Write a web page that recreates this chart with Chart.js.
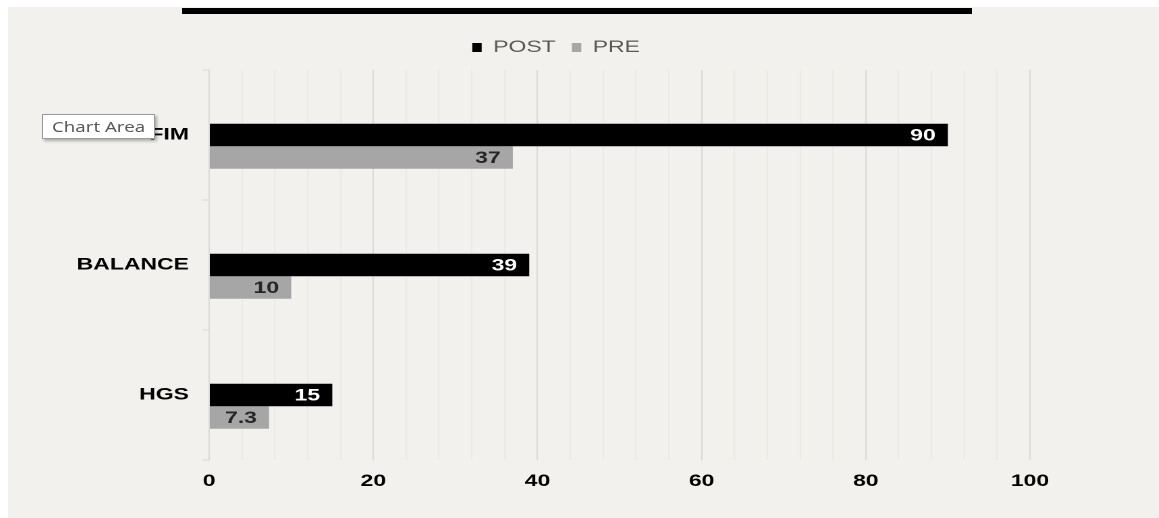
<!DOCTYPE html>
<html>
<head>
<meta charset="utf-8">
<script src="https://cdn.jsdelivr.net/npm/chart.js@4.4.0/dist/chart.umd.min.js"></script>
<style>
body{margin:0;background:#fff;width:1159px;height:518px;position:relative;overflow:hidden;font-family:"Liberation Sans",Arial,sans-serif;}
#panel{position:absolute;left:8px;top:7px;right:0;bottom:0;background:#f3f1ed;}
#topline{position:absolute;left:182px;top:8px;width:790px;height:6px;background:#000;}
#wrap{position:absolute;left:8px;top:7px;width:853px;height:511px;transform:scaleX(1.35);transform-origin:0 0;}
#tip{position:absolute;left:42px;top:114px;width:111px;height:23px;background:#fff;border:1px solid #9a9a9a;box-shadow:2px 2px 3px rgba(0,0,0,.3);z-index:5;}
#tip span{display:inline-block;font-family:"Noto Sans",sans-serif;font-size:14px;color:#595959;line-height:23px;margin-left:9px;transform:scaleX(1.33);transform-origin:0 50%;}
</style>
</head>
<body>
<div id="panel"></div>
<div id="topline"></div>
<div id="wrap"><canvas id="barChart"></canvas></div>
<div id="tip"><span>Chart Area</span></div>
<script>
const categories = ["FIM","BALANCE","HGS"];
const postValues = [90,39,15];
const preValues = [37,10,7.3];
const xTicks = [0,20,40,60,80,100];

Chart.defaults.font.family = "'Liberation Sans', Arial, sans-serif";

// legend gets a fixed height and is centred on the plot, not the canvas
const legendSpace = {
id:"legendSpace",
beforeInit(chart){
const fit = chart.legend.fit;
chart.legend.fit = function(){
fit.bind(chart.legend)();
this.height = 43;
};
},
afterLayout(chart){
chart.legend.left = 55;
chart.legend.right = 757;
}
};

const valueLabels = {
id:"valueLabels",
afterDatasetsDraw(chart){
const ctx = chart.ctx;
ctx.save();
ctx.font = "bold 17px 'Liberation Sans', Arial, sans-serif";
ctx.textAlign = "right";
ctx.textBaseline = "middle";
[1,2].forEach(di=>{
const meta = chart.getDatasetMeta(di);
const ds = chart.data.datasets[di];
meta.data.forEach((bar,i)=>{
ctx.fillStyle = di===1 ? "#ffffff" : "#262626";
ctx.fillText(String(ds.data[i]), bar.x - 9, bar.y + 1);
});
});
ctx.restore();
}
};

new Chart(document.getElementById("barChart"),{
type:"bar",
data:{
labels:categories,
datasets:[
{label:"",data:[null,null,null],backgroundColor:"rgba(0,0,0,0)"},
{label:"POST",data:postValues,backgroundColor:"#000000"},
{label:"PRE",data:preValues,backgroundColor:"#a6a6a6"}
]
},
options:{
indexAxis:"y",
responsive:true,
maintainAspectRatio:false,
devicePixelRatio:2,
animation:false,
categoryPercentage:0.519,
barPercentage:1,
layout:{padding:{left:0,right:96,top:20,bottom:18}},
plugins:{
tooltip:{enabled:false},
legend:{
position:"top",
labels:{
boxWidth:7,
boxHeight:9,
padding:12,
color:"#595959",
font:{size:17},
filter:item=>item.text!==""
}
}
},
scales:{
x:{
min:0,
max:100,
afterFit(scale){scale.height = 40;},
ticks:{
stepSize:4,
autoSkip:false,
maxRotation:0,
padding:11,
color:"#000",
font:{size:17,weight:"bold"},
callback:v=>xTicks.includes(v) ? v : ""
},
grid:{
drawTicks:false,
color:c=>xTicks.includes(c.tick.value) ? "#d9d9d9" : "#ece9e5"
},
border:{display:false}
},
y:{
afterFit(scale){scale.width = 149;},
ticks:{
padding:10,
color:"#000",
font:{size:17,weight:"bold"}
},
grid:{
drawOnChartArea:false,
tickLength:5,
color:"#d9d9d9"
},
border:{color:"#d9d9d9"}
}
}
},
plugins:[legendSpace,valueLabels]
});
</script>
</body>
</html>
